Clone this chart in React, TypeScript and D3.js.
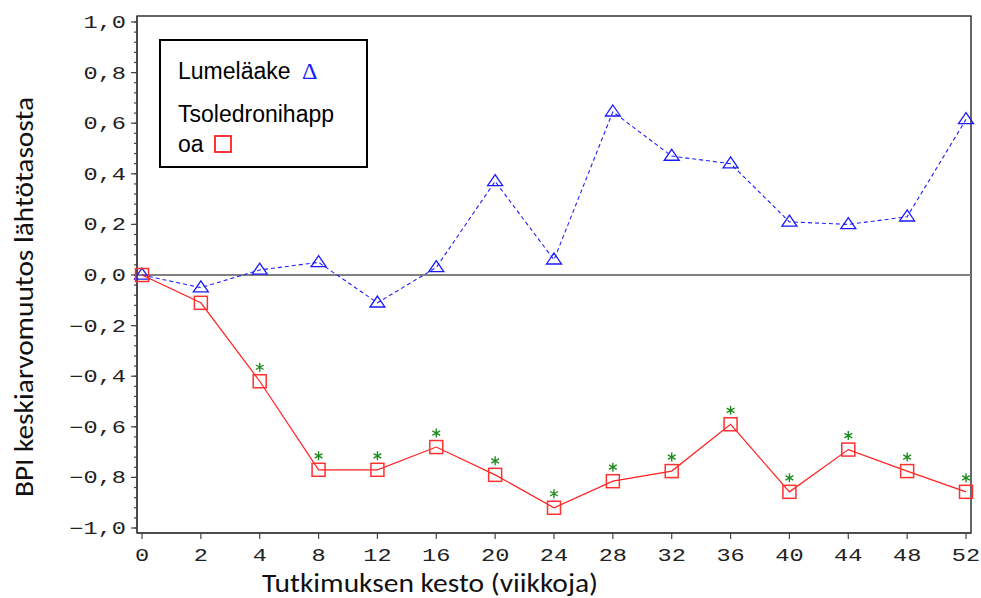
import React from "react";
import * as d3 from "d3";

const weeks = ["0", "2", "4", "8", "12", "16", "20", "24", "28", "32", "36", "40", "44", "48", "52"];
const placebo = [0, -0.05, 0.02, 0.05, -0.11, 0.03, 0.37, 0.06, 0.645, 0.47, 0.44, 0.21, 0.2, 0.23, 0.615];
const zoledronic = [0, -0.11, -0.42, -0.77, -0.77, -0.68, -0.79, -0.92, -0.815, -0.775, -0.59, -0.857, -0.69, -0.775, -0.857];
const significant = [false, false, true, true, true, true, true, true, true, true, true, true, true, true, true];
const yTicks = [-1, -0.8, -0.6, -0.4, -0.2, 0, 0.2, 0.4, 0.6, 0.8, 1];
const yMinorTicks = d3.range(-1, 1.0001, 0.04);

const legendPlacebo = "Lumeläake";
const legendZol1 = "Tsoledronihapp";
const legendZol2 = "oa";
const xTitle = "Tutkimuksen kesto (viikkoja)";
const yTitle = "BPI keskiarvomuutos lähtötasosta";

const W = 981;
const H = 598;
const frame = { left: 137, top: 16, right: 971, bottom: 533 };

const x = d3.scalePoint<string>().domain(weeks).range([142, 966]);
const y = d3.scaleLinear().domain([-1, 1]).range([528, 22]);

const fmt = (v: number) => {
  const s = Math.abs(v).toFixed(1).replace(".", ",");
  return v < -1e-9 ? "\u2212" + s : s;
};

const tri = (cx: number, cy: number) => {
  const w = 7.5, h = 11;
  return `M${cx},${cy - h * 0.62} L${cx + w},${cy + h * 0.38} L${cx - w},${cy + h * 0.38} Z`;
};

const star = (cx: number, cy: number) => {
  const r = 4.5;
  const parts: string[] = [];
  for (let i = 0; i < 3; i++) {
    const a = (Math.PI / 3) * i + Math.PI / 2;
    const dx = Math.cos(a) * r, dy = Math.sin(a) * r;
    parts.push(`M${cx - dx},${cy - dy} L${cx + dx},${cy + dy}`);
  }
  return parts.join(" ");
};

const tickFont = "Liberation Mono, DejaVu Sans Mono, monospace";

export default function App() {
  const lineGen = d3
    .line<number>()
    .x((_, i) => x(weeks[i]) as number)
    .y((d) => y(d));

  return (
    <svg width={W} height={H} style={{ position: "absolute", left: 0, top: 0, background: "#fff" }}>
      <rect x={0} y={0} width={W} height={H} fill="#fff" />
      {/* frame */}
      <rect
        x={frame.left}
        y={frame.top}
        width={frame.right - frame.left}
        height={frame.bottom - frame.top}
        fill="none"
        stroke="#000"
        strokeWidth={1.2}
      />
      <line x1={frame.left} x2={frame.left} y1={frame.top} y2={frame.bottom} stroke="#444" strokeWidth={1.6} />
      <line x1={frame.left} x2={frame.right} y1={frame.bottom} y2={frame.bottom} stroke="#444" strokeWidth={1.6} />

      {/* y ticks */}
      {yMinorTicks.map((t, i) => (
        <line key={"m" + i} x1={frame.left - 3} x2={frame.left} y1={y(t)} y2={y(t)} stroke="#444" strokeWidth={1.2} />
      ))}
      {yTicks.map((t) => (
        <g key={t}>
          <line x1={frame.left - 6} x2={frame.left} y1={y(t)} y2={y(t)} stroke="#444" strokeWidth={1.2} />
          <text
            transform={`translate(126,${y(t) + 6}) scale(1.35,1)`}
            textAnchor="end"
            fontFamily={tickFont}
            fontSize={17.5}
            fill="#222"
          >
            {fmt(t)}
          </text>
        </g>
      ))}

      {/* x ticks */}
      {weeks.map((w) => (
        <g key={w}>
          <line x1={x(w)} x2={x(w)} y1={frame.bottom} y2={frame.bottom + 6} stroke="#444" strokeWidth={1.2} />
          <text
            transform={`translate(${x(w)},561) scale(1.35,1)`}
            textAnchor="middle"
            fontFamily={tickFont}
            fontSize={17.5}
            fill="#222"
          >
            {w}
          </text>
        </g>
      ))}

      {/* zero line */}
      <line x1={frame.left} x2={frame.right} y1={y(0)} y2={y(0)} stroke="#808080" strokeWidth={2} />

      {/* placebo */}
      <path d={lineGen(placebo) ?? ""} fill="none" stroke="#2020ff" strokeWidth={1.1} strokeDasharray="4,3" />
      {placebo.map((v, i) => (
        <path key={"t" + i} d={tri(x(weeks[i]) as number, y(v))} fill="none" stroke="#1a1aff" strokeWidth={1.3} />
      ))}

      {/* zoledronic */}
      <path d={lineGen(zoledronic) ?? ""} fill="none" stroke="#ff2020" strokeWidth={1.2} />
      {zoledronic.map((v, i) => (
        <rect
          key={"s" + i}
          x={(x(weeks[i]) as number) - 6.5}
          y={y(v) - 6.5}
          width={13}
          height={13}
          fill="none"
          stroke="#ff3030"
          strokeWidth={1.5}
        />
      ))}
      {zoledronic.map((v, i) =>
        significant[i] ? (
          <path key={"a" + i} d={star(x(weeks[i]) as number, y(v) - 14)} stroke="#1e8c1e" strokeWidth={1.4} fill="none" />
        ) : null
      )}

      {/* legend */}
      <rect x={160} y={40} width={207} height={127} fill="#fff" stroke="#000" strokeWidth={2} />
      <text x={178} y={79} fontFamily="Liberation Sans, Arial, sans-serif" fontSize={23} fill="#000">
        {legendPlacebo}
      </text>
      <text x={302} y={79} fontFamily="Liberation Serif, Times New Roman, serif" fontSize={24} fill="#1a1aff">
        Δ
      </text>
      <text x={178} y={122} fontFamily="Liberation Sans, Arial, sans-serif" fontSize={23} fill="#000">
        {legendZol1}
      </text>
      <text x={178} y={152} fontFamily="Liberation Sans, Arial, sans-serif" fontSize={23} fill="#000">
        {legendZol2}
      </text>
      <rect x={215} y={136} width={16} height={16} fill="none" stroke="#ff2020" strokeWidth={1.8} />

      {/* axis titles */}
      <text
        x={430}
        y={592}
        textAnchor="middle"
        fontFamily="Carlito, Lato, Open Sans, sans-serif"
        fontSize={26}
        textLength={336}
        lengthAdjust="spacingAndGlyphs"
        fill="#111"
      >
        {xTitle}
      </text>
      <text
        transform={`translate(33,297) rotate(-90)`}
        textAnchor="middle"
        fontFamily="Carlito, Lato, Open Sans, sans-serif"
        fontSize={27}
        textLength={400}
        lengthAdjust="spacingAndGlyphs"
        fill="#111"
      >
        {yTitle}
      </text>
    </svg>
  );
}
